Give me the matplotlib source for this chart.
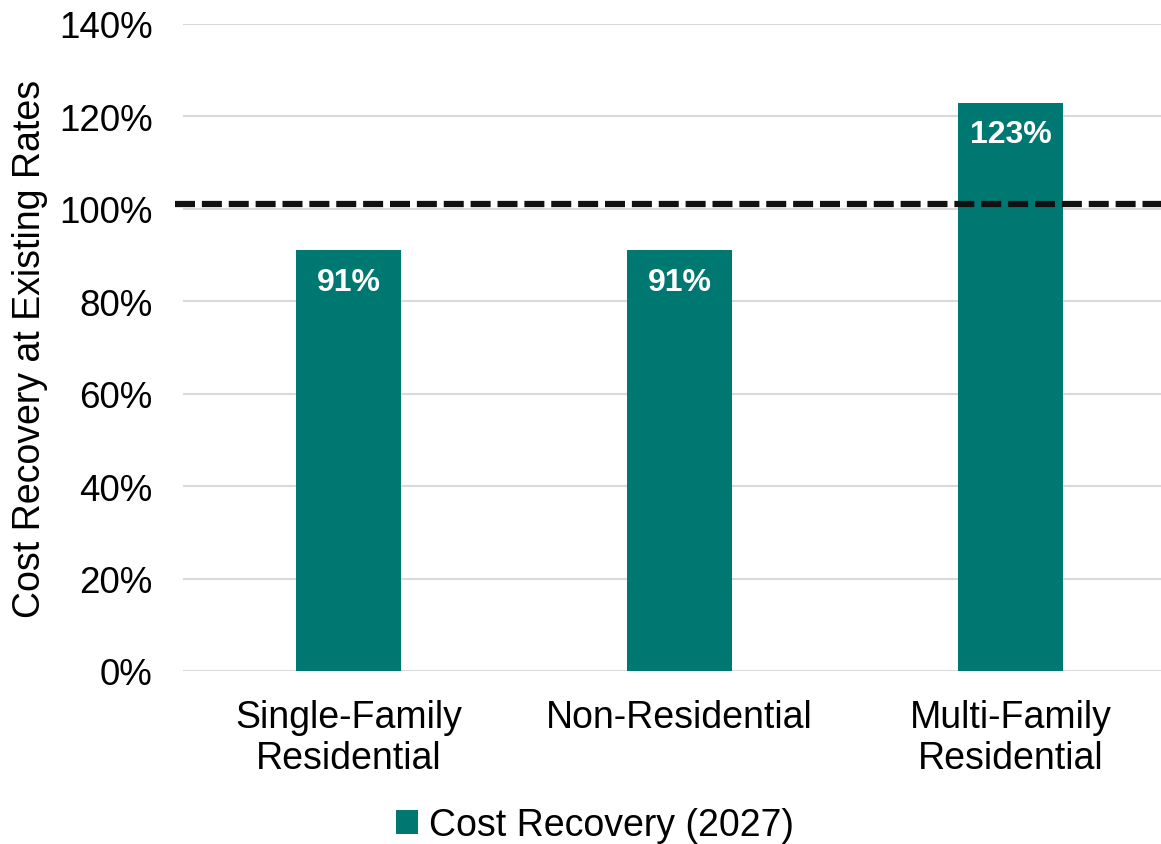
import matplotlib
matplotlib.use("Agg")
import matplotlib.pyplot as plt
from matplotlib.ticker import PercentFormatter

categories = ["Single-Family\nResidential", "Non-Residential", "Multi-Family\nResidential"]
values = [0.91, 0.91, 1.23]
labels = ["91%", "91%", "123%"]
target = 1.01
yticks = [0, 0.2, 0.4, 0.6, 0.8, 1.0, 1.2, 1.4]

plt.rcParams['font.family'] = ['Liberation Sans', 'DejaVu Sans']
color = "#007872"

fig = plt.figure(figsize=(11.61, 8.45), dpi=100)
ax = fig.add_axes([183/1161, 1-672/845, 1-183/1161, (672-25)/845])

x = list(range(len(categories)))
bars = ax.bar(x, values, width=0.315, color=color, zorder=2, label="Cost Recovery (2027)")
for xi, v, lab in zip(x, values, labels):
    ax.text(xi, v - 0.035, lab, ha="center", va="top", color="white",
            fontsize=23, fontweight="bold", zorder=3)

ax.axhline(target, xmin=-0.008, xmax=1, color="#111111", lw=4.5, ls=(0, (3.2, 1.1)),
           zorder=4, clip_on=False)

ax.set_xlim(-0.5, 2.455)
ax.set_ylim(0, 1.4)
ax.set_yticks(yticks)
ax.yaxis.set_major_formatter(PercentFormatter(1.0, decimals=0))
ax.set_xticks(x)
ax.set_xticklabels(categories, fontsize=27, linespacing=1.2)
ax.tick_params(axis="y", labelsize=26.5, length=0, pad=22)
ax.tick_params(axis="x", length=0, pad=20)
ax.grid(axis="y", color="#d9d9d9", lw=1.5, zorder=0)
for s in ax.spines.values():
    s.set_visible(False)
ax.set_ylabel("Cost Recovery at Existing Rates", fontsize=27, labelpad=8)

fig.legend(handles=[bars], labels=["Cost Recovery (2027)"], loc="center",
           bbox_to_anchor=(595/1161, 1-826/845), frameon=False, fontsize=27,
           handlelength=0.6, handleheight=0.6, handletextpad=0.3)

fig.savefig("out.png", dpi=100)
